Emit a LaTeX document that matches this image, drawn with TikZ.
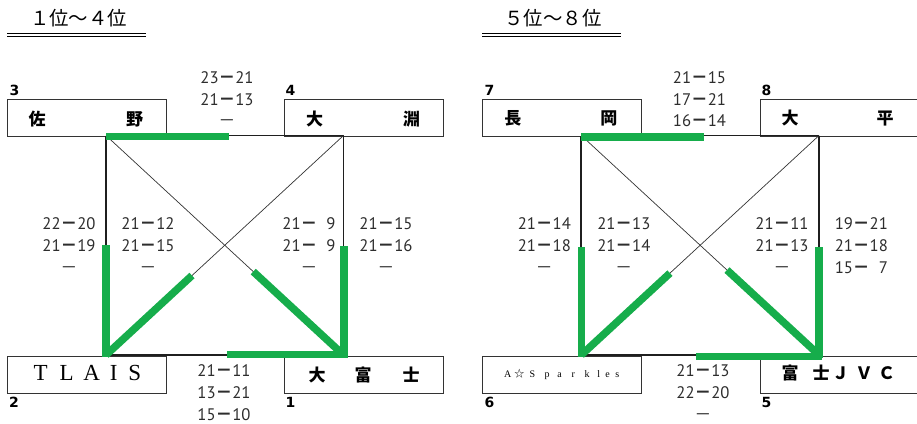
\documentclass[tikz,border=0pt]{standalone}
\usepackage{fontspec}
\usetikzlibrary{calc}
\newfontfamily\jpfont{Noto Sans CJK JP}
\newfontfamily\scfont{PT Sans}
\newfontfamily\lblfont{DejaVu Sans}
\newfontfamily\serfont{Liberation Serif}
\definecolor{wingreen}{RGB}{22,173,75}
\definecolor{txt}{RGB}{45,45,45}
\newcommand\putch[2]{\rlap{\hspace{#1pt}\makebox[0pt]{#2}}}
\newcommand\sd{{\jpfont\bfseries －}}
\newcommand\sdl{{\jpfont －}}
\newcommand\scoreset[6]{%
  \node[sc] (#1a) at (#2,#3) {#4};
  \node[sc] (#1b) at (#2,#3+21.7) {#5};
  \node[sc] (#1c) at (#2,#3+43.4) {#6};}
\begin{document}
\begin{tikzpicture}[x=1pt,y=-1pt,
  teambox/.style={draw=black!80,line width=0.9pt,minimum width=158.5pt,minimum height=36.7pt,inner sep=0pt,anchor=north west},
  blk/.style={draw=black!88,line width=1.8pt},
  diagline/.style={draw=black!80,line width=0.7pt},
  grn/.style={draw=wingreen,line width=7.5pt},
  sc/.style={font=\scfont\fontsize{16.7pt}{16.7pt}\selectfont,text=txt,inner sep=0pt,anchor=base},
  seed/.style={font=\lblfont\bfseries\fontsize{14pt}{14pt}\selectfont,inner sep=0pt,anchor=base west},
  jpname/.style={font=\jpfont\bfseries\fontsize{17pt}{17pt}\selectfont,inner sep=0pt,anchor=west},
  ttl/.style={font=\jpfont\fontsize{19.4pt}{19.4pt}\selectfont,inner sep=0pt},
  ul/.style={draw=black,line width=1.3pt}]
\useasboundingbox (0,0) rectangle (917,423);
\clip (0,0) rectangle (917,423);

% titles
\node[ttl] (title1) at (78.5,18.5) {１位～４位};
\node[ttl] (title2) at (553,18.5) {５位～８位};
\draw[ul] (7,33.5) -- (146,33.5);
\draw[ul] (7,36.8) -- (146,36.8);
\draw[ul] (482,33.5) -- (621,33.5);
\draw[ul] (482,36.8) -- (621,36.8);

% boxes
\node[teambox] (b3) at (7,99.3) {};
\node[teambox] (b4) at (284.3,99.3) {};
\node[teambox] (b2) at (7,356) {};
\node[teambox] (b1) at (284.3,356) {};
\node[teambox] (b7) at (482,99.3) {};
\node[teambox,minimum width=161pt] (b8) at (759.8,99.3) {};
\node[teambox] (b6) at (482,356) {};
\node[teambox,minimum width=161pt] (b5) at (759.8,356) {};

% names
\node[jpname] (t3) at (36.5,119.5) {\putch{0}{佐}\putch{97.5}{野}};
\node[jpname] (t4) at (314,119.5) {\putch{0}{大}\putch{97}{淵}};
\node[jpname] (t1) at (316.5,375) {\putch{0}{大}\putch{46}{富}\putch{94}{士}};
\node[anchor=base west,inner sep=0pt,font=\serfont\fontsize{23pt}{23pt}\selectfont] (t2) at (40,380)
  {\putch{0}{T}\putch{26}{L}\putch{51}{A}\putch{73}{I}\putch{94}{S}};
\node[jpname] (t7) at (512.2,118.5) {\putch{0}{長}\putch{96}{岡}};
\node[jpname] (t8) at (789.5,118.5) {\putch{0}{大}\putch{95}{平}};
\node[jpname] (t5) at (789.5,373.3) {\putch{0}{富}\putch{31}{士}\putch{50.5}{Ｊ}\putch{74}{Ｖ}\putch{96.5}{Ｃ}};
\node[anchor=base west,inner sep=0pt,font=\serfont\fontsize{10pt}{10pt}\selectfont] (t6) at (507,377.7)
  {\putch{0}{A}\putch{11.7}{\jpfont ☆}\putch{24.7}{S}\putch{39.5}{p}\putch{52}{a}\putch{65.5}{r}\putch{79.3}{k}\putch{91}{l}\putch{100}{e}\putch{109.7}{s}};

% seeds
\node[seed] (n3) at (9.5,95) {3};
\node[seed] (n4) at (285.5,95) {4};
\node[seed] (n2) at (9,407) {2};
\node[seed] (n1) at (285.5,407) {1};
\node[seed] (n7) at (484.5,95) {7};
\node[seed] (n8) at (761.5,95) {8};
\node[seed] (n6) at (484.5,407) {6};
\node[seed] (n5) at (761.5,407) {5};

% corner points
\coordinate (L3) at (106,135.5);
\coordinate (L4) at (343.5,135.5);
\coordinate (L2) at (106,355);
\coordinate (L1) at (343.5,355);
\coordinate (R7) at (581.3,135.5);
\coordinate (R8) at (819,135.5);
\coordinate (R6) at (581.3,355);
\coordinate (R5) at (819,355);

% black lines
\draw[blk] (L3) -- (L4);
\draw[blk] (L2) -- (L1);
\draw[blk] (L3) -- (L2);
\draw[blk] (L4) -- (L1);
\draw[diagline] (L3) -- (L1);
\draw[diagline] (L4) -- (L2);
\draw[blk] (R7) -- (R8);
\draw[blk] (R6) -- (R5);
\draw[blk] (R7) -- (R6);
\draw[blk] (R8) -- (R5);
\draw[diagline] (R7) -- (R5);
\draw[diagline] (R8) -- (R6);

% green (winner) segments, left
\coordinate (gLt1) at (106,136.7);
\coordinate (gLt2) at (229,136.7);
\coordinate (gLv1) at (106,245);
\coordinate (gLv2) at (106,357);
\coordinate (gLw1) at (344,246);
\coordinate (gLw2) at (344,357.5);
\coordinate (gLd1) at ($(L3)!0.62!(L1)$);
\coordinate (gLe1) at ($(L4)!0.638!(L2)$);
\coordinate (gLb1) at (227,354.7);
\coordinate (gLb2) at (347.5,354.7);
\draw[grn] (gLt1) -- (gLt2);
\draw[grn] (gLv1) -- (gLv2);
\draw[grn] (gLw1) -- (gLw2);
\draw[grn] (gLd1) -- (L1);
\draw[grn] (gLe1) -- (L2);
\draw[grn] (gLb1) -- (gLb2);

% green (winner) segments, right
\coordinate (gRt1) at (581.3,137);
\coordinate (gRt2) at (704,137);
\coordinate (gRv1) at (581.3,247);
\coordinate (gRv2) at (581.3,357);
\coordinate (gRw1) at (819,247);
\coordinate (gRw2) at (819,357.5);
\coordinate (gRd1) at ($(R7)!0.613!(R5)$);
\coordinate (gRe1) at ($(R8)!0.627!(R6)$);
\coordinate (gRb1) at (696.3,356.5);
\coordinate (gRb2) at (822,356.5);
\draw[grn] (gRt1) -- (gRt2);
\draw[grn] (gRv1) -- (gRv2);
\draw[grn] (gRw1) -- (gRw2);
\draw[grn] (gRd1) -- (R5);
\draw[grn] (gRe1) -- (R6);
\draw[grn] (gRb1) -- (gRb2);

% scores left
\scoreset{s34}{227}{83.3}{23\sd21}{21\sd13}{\sdl}
\scoreset{s32}{69}{229.8}{22\sd20}{21\sd19}{\sdl}
\scoreset{s31}{148}{229.8}{21\sd12}{21\sd15}{\sdl}
\scoreset{s42}{309}{229.8}{21\sd\hphantom{0}9}{21\sd\hphantom{0}9}{\sdl}
\scoreset{s41}{386}{229.8}{21\sd15}{21\sd16}{\sdl}
\scoreset{s21}{224}{376.8}{21\sd11}{13\sd21}{15\sd10}
% scores right
\scoreset{s78}{699.5}{83.5}{21\sd15}{17\sd21}{16\sd14}
\scoreset{s76}{544.3}{229.8}{21\sd14}{21\sd18}{\sdl}
\scoreset{s75}{623.8}{229.8}{21\sd13}{21\sd14}{\sdl}
\scoreset{s86}{782}{229.8}{21\sd11}{21\sd13}{\sdl}
\scoreset{s85}{861.3}{229.8}{19\sd21}{21\sd18}{15\sd\hphantom{0}7}
\scoreset{s65}{703}{376.8}{21\sd13}{22\sd20}{\sdl}
\end{tikzpicture}
\end{document}
